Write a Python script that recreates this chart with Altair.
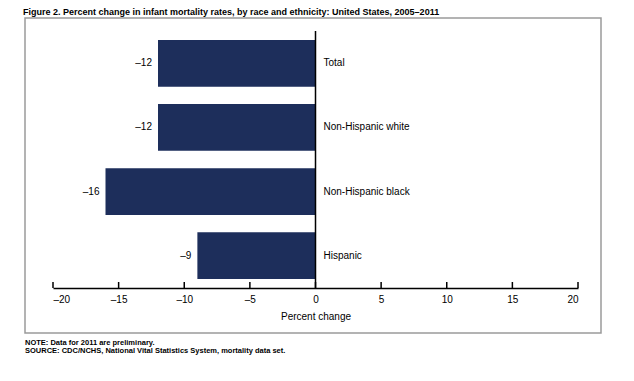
import altair as alt
import pandas as pd

categories = ["Total", "Non-Hispanic white", "Non-Hispanic black", "Hispanic"]
values = [-12, -12, -16, -9]
value_labels = ["\u201312", "\u201312", "\u201316", "\u20139"]
ticks = [-20, -15, -10, -5, 0, 5, 10, 15, 20]

title_text = "Figure 2. Percent change in infant mortality rates, by race and ethnicity: United States, 2005\u20132011"
note_text = "NOTE: Data for 2011 are preliminary."
source_text = "SOURCE: CDC/NCHS, National Vital Statistics System, mortality data set."

FONT = "Liberation Sans"
W, H = 525, 257

df = pd.DataFrame({"cat": categories, "val": values, "lab": value_labels})
tick_df = pd.DataFrame({"t": ticks})

xscale = alt.Scale(domain=[-20, 20], nice=False)
yscale = alt.Scale(domain=categories, paddingInner=0.27, paddingOuter=0.14)

base = alt.Chart(df)

bars = base.mark_bar(color="#1d2e5b").encode(
    x=alt.X("val:Q", scale=xscale,
            axis=alt.Axis(values=ticks, title="Percent change", ticks=False, tickSize=0,
                          domainColor="black", domainWidth=1.5, grid=False,
                          labelFont=FONT, labelFontSize=10, labelColor="black",
                          labelPadding=6, titleFont=FONT, titleFontSize=10,
                          titleFontWeight="normal", titleColor="black", titlePadding=7,
                          labelExpr="replace(datum.label, '\u2212', '\u2013')")),
    x2=alt.datum(0),
    y=alt.Y("cat:N", scale=yscale, axis=None, sort=categories),
)

val_text = base.mark_text(align="right", dx=-6, font=FONT, fontSize=10, color="black").encode(
    x=alt.X("val:Q", scale=xscale),
    y=alt.Y("cat:N", scale=yscale, sort=categories),
    text="lab:N",
)

cat_text = base.mark_text(align="left", dx=8, font=FONT, fontSize=10, color="black").encode(
    x=alt.X("zero:Q", scale=xscale),
    y=alt.Y("cat:N", scale=yscale, sort=categories),
    text="cat:N",
).transform_calculate(zero="0")

zero_rule = alt.Chart(pd.DataFrame({"z": [0]})).mark_rule(color="black", strokeWidth=1.5).encode(
    x=alt.X("z:Q", scale=xscale),
    y=alt.value(0),
    y2=alt.value(H),
)

tick_marks = alt.Chart(tick_df).mark_rule(color="black", strokeWidth=1.5).encode(
    x=alt.X("t:Q", scale=xscale),
    y=alt.value(H - 6),
    y2=alt.value(H),
)

one = alt.Data(values=[{"a": 1}])

frame = alt.Chart(one).mark_rect(fill="white", fillOpacity=0, stroke="#9a9a9a", strokeWidth=1.5).encode(
    x=alt.value(-28), x2=alt.value(548), y=alt.value(-13), y2=alt.value(302),
)

title = alt.Chart(one).mark_text(align="left", baseline="alphabetic", font=FONT, fontSize=9,
                                 fontWeight="bold", color="black").encode(
    x=alt.value(-30), y=alt.value(-16), text=alt.value(title_text),
)
note = alt.Chart(one).mark_text(align="left", baseline="alphabetic", font=FONT, fontSize=7.5,
                                fontWeight="bold", color="black").encode(
    x=alt.value(-28), y=alt.value(314), text=alt.value(note_text),
)
source = alt.Chart(one).mark_text(align="left", baseline="alphabetic", font=FONT, fontSize=7.5,
                                  fontWeight="bold", color="black").encode(
    x=alt.value(-28), y=alt.value(322), text=alt.value(source_text),
)

chart = alt.layer(frame, bars, zero_rule, tick_marks, val_text, cat_text, title, note, source).properties(
    width=W, height=H,
    autosize=alt.AutoSizeParams(type="none"),
    padding={"left": 45, "top": 23, "right": 48, "bottom": 85},
    background="white",
).configure_view(strokeWidth=0)

chart.save("out.html", embed_options={"renderer": "svg", "actions": False})
